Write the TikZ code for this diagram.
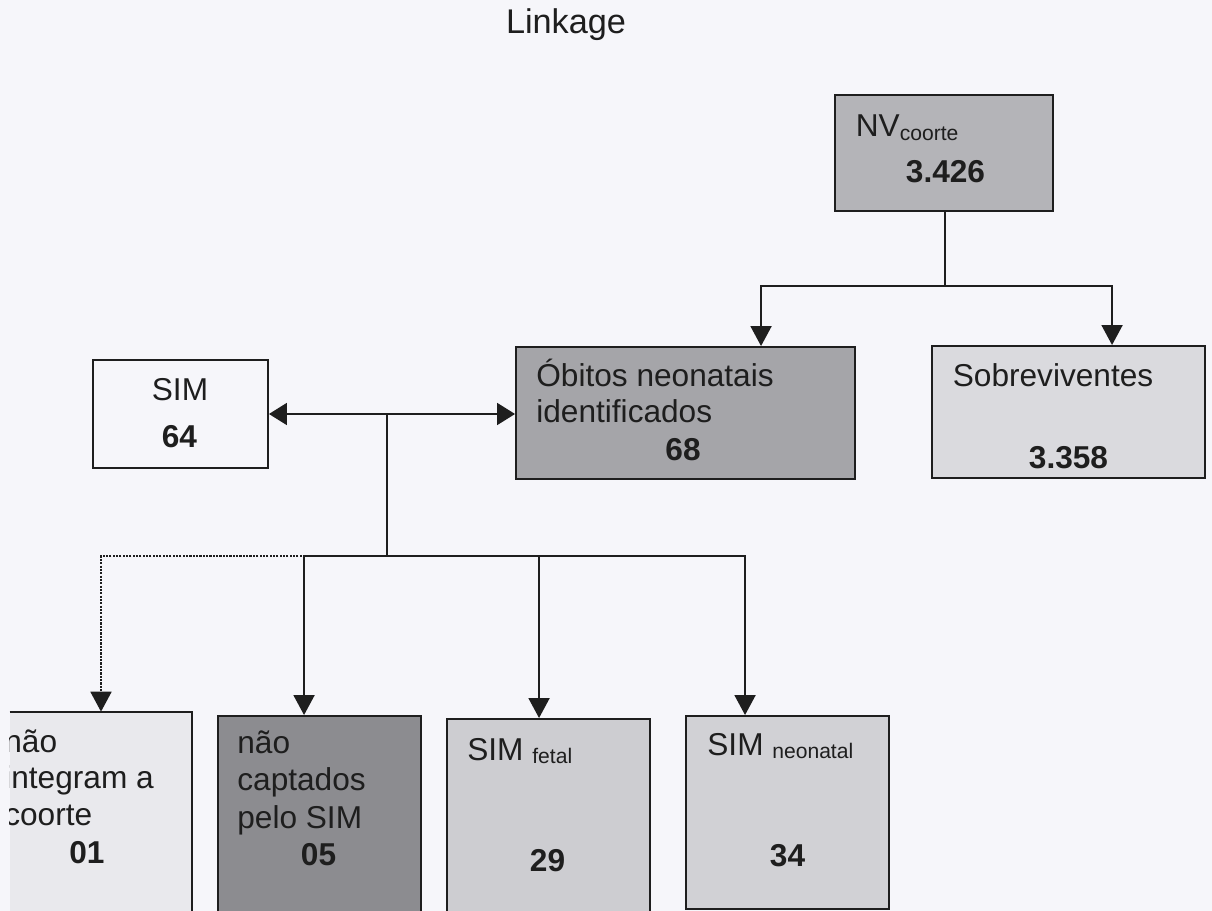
\documentclass[tikz,border=0pt]{standalone}
\usepackage{fontspec}
\setmainfont{Liberation Sans}
\usetikzlibrary{arrows.meta,calc,fit}

\definecolor{paper}{HTML}{F6F6FA}
\definecolor{ink}{HTML}{1E1E1E}
\definecolor{nvfill}{HTML}{B4B4B8}
\definecolor{obfill}{HTML}{A5A5A9}
\definecolor{sobfill}{HTML}{DADADE}
\definecolor{outfill}{HTML}{E9E9ED}
\definecolor{lostfill}{HTML}{8C8C90}
\definecolor{fetfill}{HTML}{CDCDD1}
\definecolor{neofill}{HTML}{D1D1D5}

% smaller, lowered index text (e.g. NV coorte, SIM fetal)
\newcommand{\lowidx}[1]{\raisebox{-2.2pt}{\fontsize{12}{14}\selectfont #1}}

\tikzset{
  box/.style={draw=ink, line width=1.1pt, inner sep=0pt},
  txt/.style={inner sep=0pt, text=ink, font=\fontsize{18}{21}\selectfont},
  num/.style={inner sep=0pt, text=ink, font=\fontsize{18}{21}\selectfont\bfseries},
  link/.style={draw=ink, line width=1.1pt},
  dotlink/.style={dash pattern=on 1.2pt off 0.7pt},
  arr/.style={link, -{Triangle[length=0.4cm,width=0.42cm]}},
  biarr/.style={link, {Triangle[length=0.36cm,width=0.44cm]}-{Triangle[length=0.36cm,width=0.44cm]}}
}

\begin{document}
\begin{tikzpicture}[x=0.02cm,y=-0.02cm]
\clip (0,0) rectangle (1212,911);
\fill[paper] (0,0) rectangle (1212,911);

% title
\node[txt, anchor=base, font=\fontsize{19.5}{23}\selectfont] (title) at (566,34) {Linkage};

% boxes
\node[box, fill=nvfill,  fit={(835,95) (1053,211)}]   (nv)   {};
\node[box, fill=obfill,  fit={(516,347) (855,479)}]   (ob)   {};
\node[box, fill=sobfill, fit={(932,346) (1205,478)}]  (sob)  {};
\node[box, fill=paper,   fit={(93,360) (268,468)}]    (sim)  {};
\node[inner sep=0pt, fill=outfill, fit={(10,712) (192,930)}] (out) {};
\node[box, fill=lostfill, fit={(218,716) (421,930)}]  (lost) {};
\node[box, fill=fetfill,  fit={(447,719) (650,930)}]  (fet)  {};
\node[box, fill=neofill,  fit={(686,716) (889,909)}]  (neo)  {};
\draw[link] (out.north west) -- (out.north east) -- (out.south east);

% texts
\node[txt, anchor=base west] (nv-a) at (855.5,137) {NV\lowidx{coorte}};
\node[num, anchor=base] (nv-n) at (945.5,183) {3.426};

\node[txt, anchor=base west] (ob-a) at (536,387) {Óbitos neonatais};
\node[txt, anchor=base west] (ob-b) at (536,423) {identificados};
\node[num, anchor=base] (ob-n) at (683,460) {68};

\node[txt, anchor=base west] (sob-a) at (952.5,387) {Sobreviventes};
\node[num, anchor=base] (sob-n) at (1068.5,468) {3.358};

\node[txt, anchor=base] (sim-a) at (180,401) {SIM};
\node[num, anchor=base] (sim-n) at (179.5,448) {64};

\begin{scope}
  \clip (out.north west) rectangle (out.south east);
  \node[txt, anchor=base west] (out-a) at (4,752) {não};
  \node[txt, anchor=base west] (out-b) at (4,788) {integram a};
  \node[txt, anchor=base west] (out-c) at (4,825) {coorte};
  \node[num, anchor=base] (out-n) at (87,863) {01};
\end{scope}

\node[txt, anchor=base west] (lost-a) at (237,753) {não};
\node[txt, anchor=base west] (lost-b) at (237,790.5) {captados};
\node[txt, anchor=base west] (lost-c) at (237,828) {pelo SIM};
\node[num, anchor=base] (lost-n) at (318.5,865.5) {05};

\node[txt, anchor=base west] (fet-a) at (467,760) {SIM \lowidx{fetal}};
\node[num, anchor=base] (fet-n) at (547.5,871.5) {29};

\node[txt, anchor=base west] (neo-a) at (707,755) {SIM \lowidx{neonatal}};
\node[num, anchor=base] (neo-n) at (787.5,866.5) {34};

% junctions
\coordinate (nvj) at (945,286);
\coordinate (sj)  at (387,414);
\coordinate (bj)  at (387,556);
\coordinate (cj)  at (305,556);

% connectors
\draw[link] (nv.south -| nvj) -- (nvj);
\draw[arr] (nvj) -| ($(ob.north west)+(246,0)$);
\draw[arr] (nvj) -| ($(sob.north west)+(181,0)$);

\draw[biarr] (sim.east) -- (sim.east -| ob.west);
\draw[link] (sj) -- (bj);
\draw[arr] (bj) -| ($(lost.north west)+(87,0)$);
\draw[arr] (bj) -| ($(fet.north west)+(93,0)$);
\draw[arr] (bj) -| ($(neo.north west)+(60,0)$);
\draw[arr, dotlink] (cj) -| (out.north);
\end{tikzpicture}
\end{document}
